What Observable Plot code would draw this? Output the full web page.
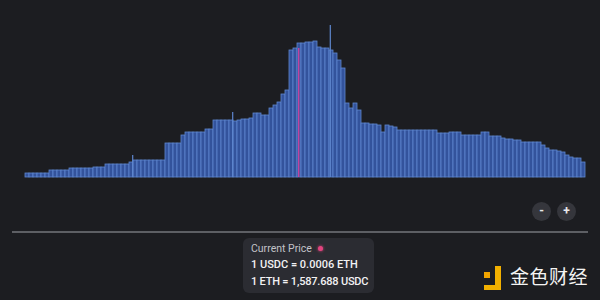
<!DOCTYPE html>
<html>
<head>
<meta charset="utf-8">
<script src="https://cdn.jsdelivr.net/npm/d3@7"></script>
<script src="https://cdn.jsdelivr.net/npm/@observablehq/plot@0.6"></script>
<style>
  html, body { margin: 0; padding: 0; background: #1c1d21; }
  #wrap { position: relative; width: 600px; height: 300px; overflow: hidden; background: #1c1d21; font-family: Roboto, Inter, "Noto Sans", sans-serif; }
  #chart { position: absolute; left: 0; top: 0; }
  .btn { position: absolute; width: 19px; height: 19px; border-radius: 50%; background: #35363c; color: #e8e8ea; font-size: 12px; line-height: 18px; text-align: center; font-weight: 700; }
  #sep { position: absolute; left: 12px; top: 231px; width: 576px; height: 2px; background: #5d5f64; }
  #tip { position: absolute; left: 243px; top: 238px; width: 131px; height: 55px; border-radius: 6px; background: #2b2c32; box-sizing: border-box; }
  #tip div { position: absolute; left: 8px; white-space: nowrap; }
  #t1 { top: 4px; font-size: 10.5px; color: #c2c3c8; }
  #dot { position: absolute; left: 75px; top: 8px; width: 5px; height: 5px; border-radius: 50%; background: #e2447f; box-shadow: 0 0 3px #e2447f; }
  #t2 { top: 20px; font-size: 11px; font-weight: 500; color: #f2f2f4; }
  #t3 { top: 37px; font-size: 11px; font-weight: 500; color: #f2f2f4; letter-spacing: -0.2px; }
  #wm { position: absolute; left: 510px; top: 262px; font-family: "Noto Sans CJK SC", sans-serif; font-size: 19px; color: #f4f4f4; letter-spacing: 0.5px; }
  .lg { position: absolute; background: #f2b000; }
</style>
</head>
<body>
<div id="wrap">
  <div id="chart"></div>
  <div class="btn" style="left:532px; top:202px;">-</div>
  <div class="btn" style="left:557px; top:202px;">+</div>
  <div id="sep"></div>
  <div id="tip">
    <div id="t1">Current Price</div>
    <span id="dot"></span>
    <div id="t2">1 USDC = 0.0006 ETH</div>
    <div id="t3">1 ETH = 1,587.688 USDC</div>
  </div>
  <div class="lg" style="left:484px; top:272px; width:6px; height:6px; background:#f0a400;"></div>
  <div class="lg" style="left:495px; top:266px; width:6px; height:24px;"></div>
  <div class="lg" style="left:484px; top:285px; width:17px; height:5px;"></div>
  <div id="wm">金色财经</div>
</div>
<script>
// Liquidity per price tick (relative units), left to right
const liquidity = [
  4, 4, 4, 4, 4, 4, 7, 7, 7, 7,
  7, 9, 9, 9, 9, 9, 9, 10, 10, 10,
  13, 13, 13, 13, 13, 13, 15, 17, 17, 17,
  17, 17, 17, 17, 17, 34, 34, 34, 34, 42,
  45, 45, 45, 45, 45, 48, 48, 57, 57, 57,
  57, 57, 56, 57, 58, 58, 59, 64, 64, 62,
  62, 69, 72, 75, 83, 87, 127, 129, 134, 134,
  135, 135, 136, 130, 129, 129, 127, 124, 117, 109,
  74, 69, 74, 67, 54, 54, 53, 53, 52, 45,
  52, 51, 50, 47, 47, 47, 47, 47, 47, 47,
  47, 47, 47, 44, 44, 44, 45, 45, 45, 42,
  42, 42, 42, 42, 45, 45, 41, 41, 41, 39,
  38, 38, 37, 37, 35, 35, 35, 35, 35, 32,
  29, 27, 27, 26, 25, 22, 20, 19, 19, 15
];
// Narrow single-tick spikes (tick position, liquidity)
const spikeTicks = [26.8, 51.8, 76.2];
const spikeValues = [22, 65, 152];
const currentTick = 68.3;
const currentLiquidity = [129];

const bars = liquidity.map((v, i) => ({i, v}));
const spikes = spikeTicks.map((t, k) => ({t, v: spikeValues[k]}));

const plot = Plot.plot({
  width: 600,
  height: 300,
  marginLeft: 25,
  marginRight: 15,
  marginTop: 25,
  marginBottom: 123,
  style: {background: "transparent"},
  x: {domain: [0, liquidity.length], axis: null},
  y: {domain: [0, 152], axis: null},
  marks: [
    Plot.rectY(bars, {x1: "i", x2: d => d.i + 1, y: "v", fill: "#33539c", stroke: "#5f87cf", strokeWidth: 0.8}),
    Plot.ruleX(spikes, {x: "t", y1: 0, y2: "v", stroke: "#5f87cf", strokeWidth: 1.2}),
    Plot.ruleX(currentLiquidity, {x: currentTick, y1: 0, y2: d => d, stroke: "#c0449f", strokeWidth: 1.5})
  ]
});
document.getElementById("chart").appendChild(plot);
</script>
</body>
</html>
